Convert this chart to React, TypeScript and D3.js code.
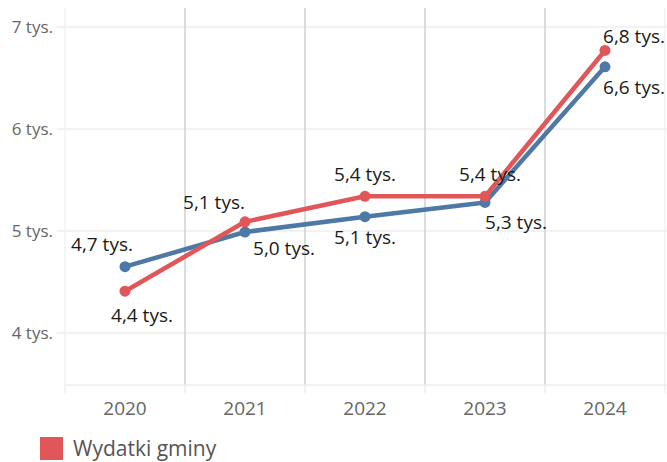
import React from "react";
import * as d3 from "d3";

const years = ["2020", "2021", "2022", "2023", "2024"];
const wydatki = [4.41, 5.09, 5.34, 5.34, 6.77];
const dochody = [4.65, 4.99, 5.14, 5.28, 6.61];
const wydatkiLabels = ["4,4 tys.", "5,1 tys.", "5,4 tys.", "5,4 tys.", "6,8 tys."];
const dochodyLabels = ["4,7 tys.", "5,0 tys.", "5,1 tys.", "5,3 tys.", "6,6 tys."];
const yTicks = [4, 5, 6, 7];
const yTickLabels = ["4 tys.", "5 tys.", "6 tys.", "7 tys."];
const legendLabel = "Wydatki gminy";

// label offsets (style)
const redOff = [[17, 24], [-31, -19], [0, -22], [5, -22], [29, -14]];
const blueOff = [[-23, -22], [39, 16], [0, 21], [31, 20], [29, 21]];

const W = 667, H = 462;
const left = 65, right = 665, bottom = 385;
const FONT = "'Open Sans', 'Noto Sans', sans-serif";

export default function App() {
  const x = d3.scaleBand().domain(years).range([left, right]).padding(0);
  const y2 = d3.scaleLinear().domain([4, 7]).range([333, 27]);
  const cx = (d: string) => (x(d) as number) + x.bandwidth() / 2;
  const line = d3.line<number>().x((_, i) => cx(years[i])).y((v) => y2(v));

  const red = "#e15759";
  const blue = "#4e79a7";

  const boundaries = years.map((yr) => x(yr) as number).concat([right]);

  return (
    <svg width={W} height={H} style={{ position: "absolute", left: 0, top: 0, background: "#fff" }}>
      {yTicks.map((t) => (
        <line key={"g" + t} x1={57} x2={W} y1={y2(t)} y2={y2(t)} stroke="#eeeeee" strokeWidth={1.5} />
      ))}
      {yTicks.map((t, i) => (
        <text key={"yt" + t} x={53} y={y2(t)} dy="0.35em" textAnchor="end" fill="#666" fontFamily={FONT} fontSize={17}>
          {yTickLabels[i]}
        </text>
      ))}
      {boundaries.map((b, i) => (
        <line key={"v" + i} x1={b} x2={b} y1={8} y2={bottom}
          stroke={i === 0 || i === boundaries.length - 1 ? "#f2f2f2" : "#cfcfcf"} strokeWidth={1.5} />
      ))}
      {boundaries.map((b, i) => (
        <line key={"tk" + i} x1={b} x2={b} y1={bottom} y2={bottom + 8} stroke="#eeeeee" strokeWidth={1.5} />
      ))}
      <line x1={left} x2={W} y1={bottom} y2={bottom} stroke="#eeeeee" strokeWidth={1.5} />
      {years.map((yr) => (
        <text key={"xt" + yr} x={cx(yr)} y={408} dy="0.35em" textAnchor="middle" fill="#666" fontFamily={FONT} fontSize={19}>
          {yr}
        </text>
      ))}
      <path d={line(dochody) || ""} fill="none" stroke={blue} strokeWidth={4.5} strokeLinejoin="round" />
      <path d={line(wydatki) || ""} fill="none" stroke={red} strokeWidth={4.5} strokeLinejoin="round" />
      {dochody.map((v, i) => (
        <circle key={"bd" + i} cx={cx(years[i])} cy={y2(v)} r={5.5} fill={blue} />
      ))}
      {wydatki.map((v, i) => (
        <circle key={"rd" + i} cx={cx(years[i])} cy={y2(v)} r={5.5} fill={red} />
      ))}
      {dochody.map((v, i) => (
        <text key={"bl" + i} x={cx(years[i]) + blueOff[i][0]} y={y2(v) + blueOff[i][1]} dy="0.35em" textAnchor="middle"
          fill="#1a1a1a" fontFamily={FONT} fontSize={19}>
          {dochodyLabels[i]}
        </text>
      ))}
      {wydatki.map((v, i) => (
        <text key={"rl" + i} x={cx(years[i]) + redOff[i][0]} y={y2(v) + redOff[i][1]} dy="0.35em" textAnchor="middle"
          fill="#1a1a1a" fontFamily={FONT} fontSize={19}>
          {wydatkiLabels[i]}
        </text>
      ))}
      <rect x={40} y={437} width={23} height={23} fill={red} />
      <text x={73} y={449} dy="0.35em" fill="#555" fontFamily={FONT} fontSize={21}>{legendLabel}</text>
    </svg>
  );
}
